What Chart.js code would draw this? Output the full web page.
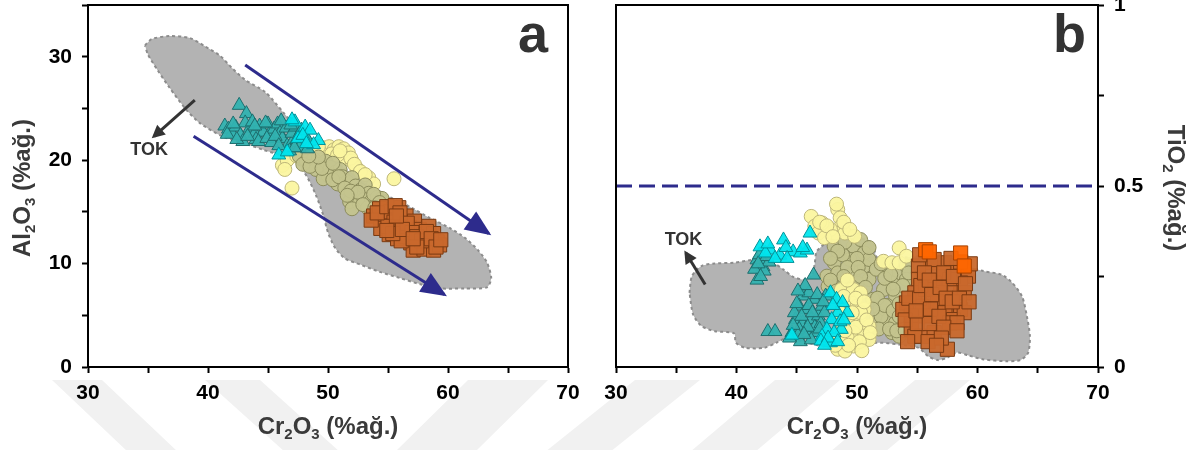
<!DOCTYPE html>
<html>
<head>
<meta charset="utf-8">
<title>Cr2O3 - Al2O3 / TiO2</title>
<script src="https://cdn.jsdelivr.net/npm/chart.js@4.4.0/dist/chart.umd.min.js"></script>
<style>
    html, body { margin: 0; padding: 0; background: #fff; }
    #wrap { position: relative; width: 1199px; height: 450px; overflow: hidden; }
    .panel { position: absolute; top: 0; height: 450px; }
    #pa { left: 0; width: 600px; }
    #pb { left: 600px; width: 599px; }
</style>
</head>
<body>
<div id="wrap">
    <div class="panel" id="pa"><canvas id="chartA"></canvas></div>
    <div class="panel" id="pb"><canvas id="chartB"></canvas></div>
</div>
<script>
// ─── Axis ticks ───────────────────────────────────────────────────────────
const xTicks  = [30, 40, 50, 60, 70];
const yTicksA = [0, 10, 20, 30];
const yTicksB = [0, 0.5, 1];

// ─── Panel a : Cr2O3 vs Al2O3 ─────────────────────────────────────────────
const fieldA = [
    [34.75, 31.1], [35.3, 31.7], [36.8, 32.0], [38.5, 31.8], [39.75, 31.0], [41.0, 30.1],
    [42.0, 28.9], [43.1, 27.75], [44.75, 26.6], [46.25, 24.65], [47.7, 22.7], [49.3, 21.0],
    [51.4, 19.2], [53.5, 17.6], [55.2, 16.4], [56.8, 15.5], [58.5, 14.4], [60.2, 13.4],
    [61.4, 12.5], [62.5, 11.3], [63.25, 10.1], [63.6, 8.6], [63.25, 7.7], [61.4, 7.6],
    [59.3, 7.6], [57.7, 8.0], [56.0, 8.6], [54.3, 9.2], [52.7, 9.9], [51.4, 10.5],
    [50.6, 11.5], [50.0, 13.0], [49.6, 14.7], [49.0, 16.6], [48.25, 18.4], [47.4, 19.7],
    [46.2, 20.4], [44.6, 21.0], [42.7, 21.75], [41.2, 22.3], [39.3, 23.6], [38.1, 25.0],
    [36.8, 27.0], [35.8, 28.7], [35.0, 30.2]
];
const tealA = [
    [42.6, 25.3], [43.2, 24.5], [41.4, 23.3], [41.7, 23.0], [42.0, 22.6], [42.3, 23.2],
    [42.7, 22.4], [42.9, 21.8], [43.5, 23.1], [43.9, 22.6], [44.3, 23.3], [44.6, 22.7],
    [45.0, 23.5], [45.1, 22.5], [45.5, 23.0], [45.8, 23.5], [46.0, 22.6], [46.2, 22.1],
    [46.5, 23.1], [46.6, 21.4], [47.0, 21.7], [47.0, 22.6], [47.3, 23.2], [47.4, 22.0],
    [47.7, 22.7], [47.9, 21.4], [48.1, 22.3], [48.4, 21.8], [44.0, 22.0], [46.8, 20.9],
    [47.6, 21.2], [43.1, 23.6], [44.8, 23.6], [41.6, 22.5], [42.4, 22.0], [43.3, 22.3],
    [43.7, 23.7], [44.2, 21.8], [44.9, 22.1], [45.3, 21.7], [45.6, 22.3], [46.1, 23.8],
    [46.9, 23.4], [47.2, 21.2], [47.8, 22.9], [48.3, 21.1], [43.9, 23.3], [45.9, 21.4],
    [42.1, 23.5]
];
const cyanA = [
    [45.9, 20.5], [47.25, 23.7], [48.1, 23.2], [48.5, 22.9], [49.2, 21.9], [48.8, 21.5],
    [47.5, 22.1], [47.9, 22.4], [48.2, 21.6], [46.6, 20.8], [47.0, 23.9]
];
const yellowA = [
    [46.2, 19.5], [46.6, 20.0], [47.0, 17.3], [49.6, 21.2], [50.1, 21.3], [50.5, 21.0],
    [50.9, 21.3], [51.3, 21.1], [51.7, 20.7], [51.4, 20.2], [52.0, 19.9], [52.4, 19.2],
    [53.4, 18.3], [55.5, 18.2], [48.9, 20.8], [53.8, 17.7], [49.4, 20.7], [50.3, 20.6],
    [50.8, 20.5], [51.9, 20.2], [52.2, 19.6], [47.4, 20.4], [46.4, 19.1], [49.2, 21.3],
    [51.0, 20.9], [52.7, 18.9], [53.1, 18.6]
];
const oliveA = [
    [47.6, 20.4], [48.2, 19.9], [48.8, 20.1], [49.3, 19.6], [49.0, 19.1], [49.8, 19.9],
    [50.2, 19.3], [50.6, 18.8], [50.0, 18.5], [51.0, 19.1], [51.2, 18.4], [51.6, 17.9],
    [50.8, 17.7], [52.0, 18.3], [52.3, 17.5], [52.7, 17.1], [53.1, 17.6], [53.4, 16.8],
    [52.2, 16.5], [51.8, 16.0], [52.6, 15.8], [53.0, 16.2], [53.6, 16.0], [54.1, 16.4],
    [54.5, 16.3], [53.3, 15.4], [52.0, 15.3], [49.6, 18.2], [47.9, 19.6], [48.5, 19.4],
    [49.5, 19.2], [50.4, 18.1], [50.9, 18.4], [51.4, 17.3], [51.9, 17.0], [52.5, 16.9],
    [53.8, 16.7], [54.3, 15.9], [52.9, 15.7], [51.6, 16.6], [50.4, 19.7], [49.2, 20.3],
    [48.4, 20.4], [53.9, 15.4]
];
const orangeA = [
    [53.8, 14.6], [54.3, 15.3], [54.7, 14.2], [55.2, 15.0], [55.5, 14.0], [55.9, 15.4],
    [56.1, 13.8], [56.5, 14.6], [54.4, 13.4], [55.1, 12.8], [55.8, 12.4], [56.3, 12.9],
    [56.8, 13.5], [57.2, 14.1], [57.6, 13.3], [58.0, 12.8], [58.4, 13.6], [58.8, 12.9],
    [59.1, 12.1], [58.3, 11.9], [57.6, 11.8], [56.9, 12.0], [57.1, 11.3], [58.0, 11.4],
    [58.8, 11.3], [59.3, 11.8], [56.5, 12.6], [55.0, 13.6], [53.6, 14.2], [54.1, 14.9],
    [54.9, 15.5], [55.6, 15.6], [56.0, 14.9], [56.6, 13.9], [57.0, 13.0], [57.4, 12.6],
    [57.8, 12.2], [58.2, 13.1], [58.6, 12.4], [59.0, 11.6], [59.4, 12.3], [57.4, 11.6],
    [56.1, 12.2], [55.4, 12.9], [54.9, 13.2], [56.2, 13.3], [55.7, 14.6], [57.1, 12.4]
];
const trendUpperA = [[43.1, 29.2], [63.4, 12.9]];
const trendLowerA = [[38.8, 22.3], [59.7, 7.0]];
const tokArrowA   = [[38.9, 25.8], [35.5, 22.3]];
const tokLabelA   = [35.1, 21.0];

// ─── Panel b : Cr2O3 vs TiO2 ──────────────────────────────────────────────
const fieldB = [
    [36.1, 0.205], [36.3, 0.251], [37.1, 0.279], [38.2, 0.286], [39.8, 0.288], [41.4, 0.296],
    [43.0, 0.288], [43.9, 0.269], [44.7, 0.249], [45.7, 0.241], [46.3, 0.255], [46.5, 0.287],
    [46.65, 0.319], [47.45, 0.342], [48.7, 0.35], [50.3, 0.354], [51.3, 0.342], [51.6, 0.305],
    [52.1, 0.301], [53.5, 0.301], [55.1, 0.306], [56.7, 0.301], [58.6, 0.283], [60.5, 0.265],
    [62.0, 0.255], [62.9, 0.232], [63.7, 0.195], [64.1, 0.14], [64.35, 0.085], [64.2, 0.039],
    [63.55, 0.019], [62.4, 0.016], [60.5, 0.021], [59.25, 0.032], [58.3, 0.04], [57.5, 0.026],
    [56.7, 0.019], [55.9, 0.03], [55.1, 0.053], [53.5, 0.062], [51.6, 0.067], [49.7, 0.049],
    [47.8, 0.053], [45.85, 0.067], [44.3, 0.081], [43.3, 0.067], [42.3, 0.053], [40.75, 0.053],
    [39.95, 0.067], [39.8, 0.093], [38.2, 0.099], [37.1, 0.113], [36.4, 0.145]
];
const tealB = [
    [41.7, 0.296], [42.2, 0.277], [41.7, 0.24], [42.3, 0.265], [42.7, 0.29], [41.9, 0.31],
    [46.4, 0.254], [42.6, 0.098], [43.2, 0.098], [45.5, 0.196], [46.0, 0.205], [45.2, 0.168],
    [45.8, 0.159], [46.5, 0.187], [44.9, 0.131], [45.5, 0.122], [46.2, 0.131], [46.8, 0.141],
    [44.6, 0.095], [45.2, 0.104], [46.0, 0.095], [47.1, 0.168], [47.4, 0.196], [46.6, 0.095],
    [45.1, 0.088], [44.8, 0.15], [45.7, 0.225], [46.5, 0.11], [47.0, 0.12], [41.5, 0.27],
    [42.0, 0.25], [42.5, 0.305], [41.8, 0.285], [45.0, 0.175], [45.4, 0.14], [46.0, 0.17],
    [46.3, 0.15], [45.9, 0.11], [44.7, 0.115], [45.3, 0.07], [46.2, 0.075], [46.9, 0.105],
    [47.3, 0.15], [46.7, 0.2], [45.6, 0.09], [44.4, 0.08], [47.2, 0.18], [45.1, 0.21]
];
const cyanB = [
    [41.95, 0.332], [42.8, 0.323], [43.9, 0.351], [44.7, 0.318], [45.3, 0.315], [45.85, 0.323],
    [43.6, 0.309], [46.1, 0.37], [42.4, 0.315], [47.8, 0.205], [48.3, 0.187], [48.4, 0.15],
    [47.9, 0.131], [47.5, 0.104], [47.1, 0.085], [47.8, 0.067], [48.7, 0.104], [49.2, 0.15],
    [44.6, 0.088], [47.0, 0.072], [48.8, 0.178], [48.0, 0.17], [48.6, 0.125], [48.1, 0.095],
    [47.6, 0.08], [48.4, 0.07], [47.3, 0.06], [48.9, 0.13], [43.2, 0.3], [44.1, 0.33],
    [42.6, 0.34], [45.5, 0.33], [44.2, 0.3]
];
const yellowB = [
    [46.2, 0.416], [46.5, 0.389], [46.8, 0.37], [48.4, 0.435], [48.6, 0.412], [48.7, 0.389],
    [48.2, 0.37], [47.8, 0.38], [49.0, 0.37], [47.3, 0.357], [49.8, 0.361], [47.1, 0.398],
    [53.5, 0.329], [52.2, 0.292], [52.9, 0.288], [53.5, 0.288], [54.1, 0.306], [49.4, 0.196],
    [48.7, 0.214], [49.7, 0.214], [50.3, 0.205], [49.0, 0.168], [50.0, 0.168], [50.6, 0.159],
    [49.4, 0.131], [50.3, 0.122], [51.0, 0.113], [49.7, 0.095], [50.6, 0.085], [48.7, 0.067],
    [49.7, 0.058], [48.4, 0.049], [49.0, 0.044], [51.0, 0.076], [50.3, 0.15], [49.2, 0.24],
    [48.9, 0.195], [49.9, 0.19], [50.6, 0.18], [48.6, 0.15], [49.6, 0.15], [48.8, 0.12],
    [49.9, 0.11], [50.8, 0.13], [48.5, 0.09], [49.2, 0.08], [50.2, 0.07], [49.3, 0.06],
    [48.2, 0.06], [50.4, 0.045], [51.1, 0.095], [49.0, 0.1], [46.9, 0.4], [47.5, 0.39],
    [48.0, 0.36], [48.9, 0.4], [49.4, 0.38], [48.3, 0.45]
];
const oliveB = [
    [48.1, 0.334], [49.7, 0.334], [50.3, 0.352], [50.6, 0.315], [49.4, 0.297], [48.1, 0.288],
    [47.5, 0.251], [48.4, 0.26], [49.7, 0.26], [50.6, 0.279], [51.0, 0.242], [49.0, 0.232],
    [47.6, 0.223], [50.0, 0.232], [51.0, 0.297], [51.3, 0.187], [51.9, 0.159], [51.6, 0.131],
    [52.2, 0.113], [52.9, 0.095], [53.5, 0.085], [52.6, 0.131], [53.2, 0.122], [53.8, 0.113],
    [52.6, 0.269], [53.5, 0.26], [54.1, 0.279], [52.9, 0.232], [54.1, 0.242], [52.2, 0.214],
    [53.2, 0.196], [55.6, 0.177], [51.6, 0.27], [52.5, 0.17], [48.8, 0.31], [49.0, 0.345],
    [50.0, 0.3], [48.4, 0.32], [47.8, 0.3], [49.2, 0.275], [50.1, 0.275], [48.9, 0.25],
    [47.8, 0.24], [50.3, 0.25], [49.5, 0.215], [48.3, 0.21], [50.7, 0.22], [51.0, 0.33],
    [51.7, 0.19], [52.0, 0.14], [52.3, 0.17], [51.8, 0.105], [52.7, 0.105], [53.3, 0.1],
    [54.0, 0.1], [53.9, 0.13], [53.0, 0.155], [53.5, 0.175], [52.3, 0.245], [52.8, 0.255],
    [53.8, 0.225], [53.0, 0.215], [52.0, 0.285], [54.3, 0.26], [51.3, 0.16], [53.5, 0.14]
];
const orangeB = [
    [55.7, 0.315], [56.1, 0.288], [55.1, 0.279], [56.7, 0.26], [57.3, 0.288], [58.3, 0.279],
    [58.9, 0.26], [59.25, 0.251], [58.6, 0.232], [57.7, 0.242], [56.4, 0.232], [55.1, 0.242],
    [54.8, 0.205], [55.7, 0.214], [57.0, 0.205], [58.0, 0.205], [58.9, 0.205], [54.1, 0.177],
    [55.4, 0.168], [56.7, 0.177], [57.7, 0.168], [58.6, 0.159], [54.5, 0.141], [55.7, 0.141],
    [57.3, 0.15], [58.0, 0.131], [58.9, 0.15], [54.5, 0.104], [55.4, 0.085], [56.4, 0.095],
    [57.7, 0.122], [58.3, 0.122], [57.5, 0.049], [53.8, 0.159], [54.8, 0.085], [56.4, 0.297],
    [54.3, 0.19], [54.0, 0.13], [54.2, 0.07], [55.0, 0.12], [55.2, 0.19], [55.3, 0.225],
    [55.6, 0.26], [56.0, 0.24], [56.2, 0.2], [56.1, 0.16], [56.0, 0.12], [55.9, 0.07],
    [56.8, 0.14], [56.9, 0.22], [57.2, 0.26], [57.4, 0.19], [57.2, 0.11], [57.0, 0.08],
    [57.9, 0.18], [58.0, 0.25], [58.5, 0.19], [58.3, 0.1], [59.0, 0.23], [59.3, 0.18],
    [59.4, 0.285], [58.6, 0.29], [57.8, 0.3], [55.2, 0.31], [54.9, 0.155], [56.6, 0.06]
];
const brightOrangeB = [[55.7, 0.324], [58.6, 0.315], [58.9, 0.279], [56.0, 0.318]];
const limitB      = [[30, 0.5], [70, 0.5]];
const tokArrowB   = [[37.4, 0.228], [35.8, 0.315]];
const tokLabelB   = [35.6, 0.35];

// ─── Styling ──────────────────────────────────────────────────────────────
const FONT      = "'Liberation Sans', Arial, Helvetica, sans-serif";
const BLUE      = '#2d2b8c';
const TITLE_CLR = '#3a3a3a';
// light gray watermark bands (page px): top x, bottom x, width
const WATERMARK = [[52, 128, 50], [205, 285, 55], [468, 395, 80], [635, 545, 65], [775, 690, 65], [915, 830, 55]];

const pts    = a => a.map(p => ({ x: p[0], y: p[1] }));
const closed = a => pts(a.concat([a[0]]));

function markers(data, style, fill, border, radius, order) {
    return {
        type: 'scatter', data: pts(data), order,
        pointStyle: style, pointRadius: radius, pointHoverRadius: radius,
        backgroundColor: fill, borderColor: border, borderWidth: 1
    };
}
function field(data) {
    return {
        type: 'line', data: closed(data), order: 20,
        showLine: true, fill: 'shape', tension: 0.25, pointRadius: 0,
        backgroundColor: '#b3b3b3', borderColor: '#8c8c8c', borderWidth: 2, borderDash: [3, 3]
    };
}
function arrow(data, color, width, head) {
    return {
        type: 'line', data: pts(data), order: 1, head,
        showLine: true, fill: false, pointRadius: 0, tension: 0,
        borderColor: color, backgroundColor: color, borderWidth: width
    };
}

// rich text with subscripts: parts = [[text, isSub], ...]
function drawRich(ctx, parts, cx, cy, angle) {
    const main = `bold 24px ${FONT}`, sub = `bold 15px ${FONT}`;
    ctx.save();
    ctx.translate(cx, cy);
    ctx.rotate(angle);
    let w = 0;
    parts.forEach(p => { ctx.font = p[1] ? sub : main; w += ctx.measureText(p[0]).width; });
    let x = -w / 2;
    ctx.fillStyle = TITLE_CLR;
    ctx.textAlign = 'left';
    ctx.textBaseline = 'alphabetic';
    parts.forEach(p => {
        ctx.font = p[1] ? sub : main;
        ctx.fillText(p[0], x, p[1] ? 13 : 8);
        x += ctx.measureText(p[0]).width;
    });
    ctx.restore();
}

const decoPlugin = {
    id: 'deco',
    beforeDraw(chart, args, o) {
        const ctx = chart.ctx;
        ctx.save();
        ctx.fillStyle = '#f1f1f1';
        WATERMARK.forEach(b => {
            ctx.beginPath();
            ctx.moveTo(b[0] - o.offset, 380);
            ctx.lineTo(b[0] + b[2] - o.offset, 380);
            ctx.lineTo(b[1] + b[2] - o.offset, 452);
            ctx.lineTo(b[1] - o.offset, 452);
            ctx.closePath();
            ctx.fill();
        });
        ctx.restore();
    },
    afterDatasetsDraw(chart) {
        const ctx = chart.ctx;
        chart.data.datasets.forEach((ds, i) => {
            if (!ds.head) return;
            const d = chart.getDatasetMeta(i).data;
            const p1 = d[d.length - 2], p2 = d[d.length - 1];
            const ang = Math.atan2(p2.y - p1.y, p2.x - p1.x);
            ctx.save();
            ctx.translate(p2.x, p2.y);
            ctx.rotate(ang);
            ctx.fillStyle = ds.borderColor;
            ctx.beginPath();
            ctx.moveTo(3, 0);
            ctx.lineTo(3 - ds.head[0], -ds.head[1]);
            ctx.lineTo(3 - ds.head[0], ds.head[1]);
            ctx.closePath();
            ctx.fill();
            ctx.restore();
        });
    },
    afterDraw(chart, args, o) {
        const ctx = chart.ctx, a = chart.chartArea;
        const sx = chart.scales.x, sy = chart.scales.y;
        ctx.save();
        // frame
        ctx.strokeStyle = '#000';
        ctx.lineWidth = 2;
        ctx.strokeRect(a.left, a.top, a.right - a.left, a.bottom - a.top);
        // TOK label
        ctx.fillStyle = '#333';
        ctx.font = `bold 18px ${FONT}`;
        ctx.textAlign = 'center';
        ctx.textBaseline = 'middle';
        ctx.fillText('TOK', sx.getPixelForValue(o.tok[0]), sy.getPixelForValue(o.tok[1]));
        // panel letter
        ctx.font = `bold 54px ${FONT}`;
        ctx.textAlign = 'right';
        ctx.textBaseline = 'alphabetic';
        ctx.fillText(o.letter, a.right - o.letterGap, a.top + 47);
        ctx.restore();
        // axis titles
        const xt = [['Cr', 0], ['2', 1], ['O', 0], ['3', 1], [' (%ağ.)', 0]];
        drawRich(ctx, xt, (a.left + a.right) / 2, 426, 0);
        drawRich(ctx, o.yTitle, o.yTitleX, (a.top + a.bottom) / 2 + 2, o.yTitleAngle);
    }
};

function tickFont(lh) { return { family: FONT, weight: 'bold', size: 21, lineHeight: lh }; }

function xScale() {
    return {
        type: 'linear', min: 30, max: 70,
        afterFit: s => { s.height = 83; s.paddingLeft = 0; s.paddingRight = 0; },
        border: { display: true, color: '#000', width: 2 },
        grid: { drawOnChartArea: false, drawTicks: true, tickLength: 6, tickColor: '#000', tickWidth: 2 },
        ticks: {
            stepSize: 5, autoSkip: false, maxRotation: 0, padding: 8, color: '#000', font: tickFont(1.2),
            callback: v => xTicks.includes(v) ? v : ''
        }
    };
}

function yScale(min, max, step, labels, position, width) {
    return {
        type: 'linear', min, max, position,
        afterFit: s => { s.width = width; s.paddingTop = 0; s.paddingBottom = 0; },
        border: { display: true, color: '#000', width: 2 },
        grid: { drawOnChartArea: false, drawTicks: true, tickLength: 6, tickColor: '#000', tickWidth: 2 },
        ticks: {
            // small line height keeps the top label from pushing the plot area down
            stepSize: step, autoSkip: false, padding: 10, color: '#000', font: tickFont(0.45),
            callback: v => labels.includes(v) ? v : ''
        }
    };
}

const common = {
    responsive: true,
    maintainAspectRatio: false,
    animation: false,
    events: []
};

// ─── Chart a ──────────────────────────────────────────────────────────────
new Chart(document.getElementById('chartA'), {
    type: 'scatter',
    data: {
        datasets: [
            field(fieldA),
            arrow(trendUpperA, BLUE, 3, [26, 11]),
            arrow(trendLowerA, BLUE, 3, [26, 11]),
            arrow(tokArrowA, '#333', 3, [13, 6.5]),
            markers(yellowA, 'circle', 'rgba(251,245,160,0.95)', '#bdb679', 7, 9),
            markers(oliveA, 'circle', 'rgba(196,196,142,0.95)', '#8c8c5c', 7, 8),
            markers(orangeA, 'rect', 'rgba(201,104,44,0.95)', '#7a3a12', 10, 7),
            markers(tealA, 'triangle', 'rgba(50,178,176,0.95)', '#1d6e6e', 8, 6),
            markers(cyanA, 'triangle', 'rgba(0,230,238,0.95)', '#00939a', 8, 5)
        ]
    },
    options: Object.assign({}, common, {
        layout: { autoPadding: false, padding: { top: 5, right: 32, left: 0, bottom: 0 } },
        scales: {
            x: xScale(),
            y: yScale(0, 35, 5, yTicksA, 'left', 88)
        },
        plugins: {
            legend: { display: false },
            tooltip: { enabled: false },
            deco: {
                offset: 0, letter: 'a', letterGap: 20, tok: tokLabelA,
                yTitle: [['Al', 0], ['2', 1], ['O', 0], ['3', 1], [' (%ağ.)', 0]],
                yTitleX: 22, yTitleAngle: -Math.PI / 2
            }
        }
    }),
    plugins: [decoPlugin]
});

// ─── Chart b ──────────────────────────────────────────────────────────────
new Chart(document.getElementById('chartB'), {
    type: 'scatter',
    data: {
        datasets: [
            field(fieldB),
            {
                type: 'line', data: pts(limitB), order: 15, showLine: true, fill: false,
                pointRadius: 0, borderColor: BLUE, borderWidth: 3, borderDash: [16, 7]
            },
            arrow(tokArrowB, '#333', 3, [13, 6.5]),
            markers(oliveB, 'circle', 'rgba(196,196,142,0.95)', '#8c8c5c', 7, 9),
            markers(yellowB, 'circle', 'rgba(251,245,160,0.95)', '#bdb679', 7, 8),
            markers(orangeB, 'rect', 'rgba(201,104,44,0.95)', '#7a3a12', 10, 7),
            markers(brightOrangeB, 'rect', 'rgba(255,102,0,0.95)', '#a84300', 10, 6),
            markers(tealB, 'triangle', 'rgba(50,178,176,0.95)', '#1d6e6e', 8, 5),
            markers(cyanB, 'triangle', 'rgba(0,230,238,0.95)', '#00939a', 8, 4)
        ]
    },
    options: Object.assign({}, common, {
        layout: { autoPadding: false, padding: { top: 5, right: 0, left: 16, bottom: 0 } },
        scales: {
            x: xScale(),
            y: yScale(0, 1, 0.25, yTicksB, 'right', 101)
        },
        plugins: {
            legend: { display: false },
            tooltip: { enabled: false },
            deco: {
                offset: 600, letter: 'b', letterGap: 12, tok: tokLabelB,
                yTitle: [['TiO', 0], ['2', 1], [' (%ağ.)', 0]],
                yTitleX: 576, yTitleAngle: Math.PI / 2
            }
        }
    }),
    plugins: [decoPlugin]
});
</script>
</body>
</html>
